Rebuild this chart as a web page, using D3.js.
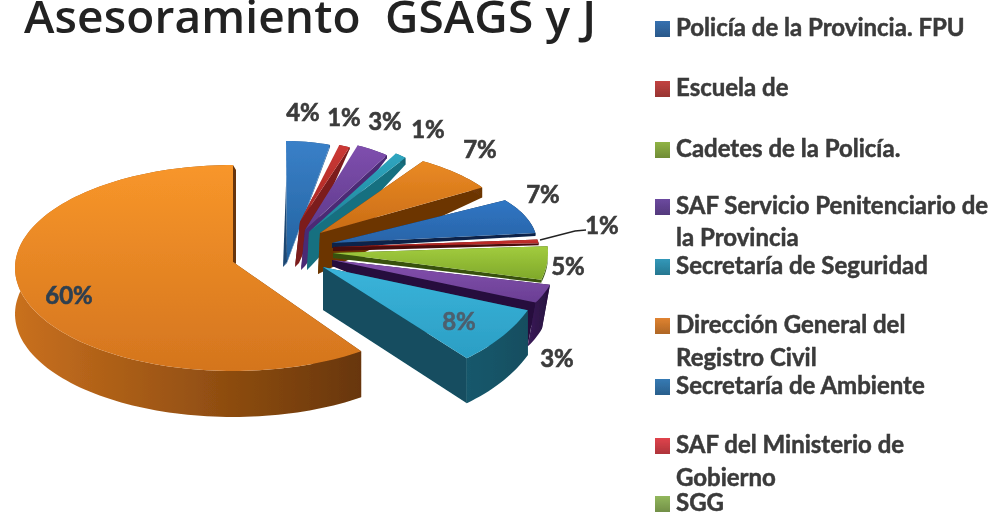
<!DOCTYPE html>
<html>
<head>
<meta charset="utf-8">
<script src="https://cdn.jsdelivr.net/npm/d3@7"></script>
<style>
  html, body { margin: 0; padding: 0; background: #fff; }
  svg { display: block; }
</style>
</head>
<body>
<div id="chart"></div>
<script>
// values, going clockwise from twelve o'clock
var sliceNames = ["Azul 1", "Rojo 1", "Violeta 1", "Turquesa 1", "Naranja 1", "Azul 2", "Rojo 2", "Verde", "Violeta 2", "Celeste", "Naranja 2"];
var sliceValues = [4, 1, 3, 1, 7, 7, 1, 5, 3, 8, 60];
var titleText = "Asesoramiento  GSAGS y J";
var legendNames = [
    ["Policía de la Provincia. FPU"],
    ["Escuela de"],
    ["Cadetes de la Policía."],
    ["SAF Servicio Penitenciario de", "la Provincia"],
    ["Secretaría de Seguridad"],
    ["Dirección General del", "Registro Civil"],
    ["Secretaría de Ambiente"],
    ["SAF del Ministerio de", "Gobierno"],
    ["SGG"]
];

// the picture is a skewed 3d pie, every slice has its own centre and radii
// dr/da = depth at rim/apex, rs/as = sideways shift of the lower edge at rim/apex, bx = back strip
// tf = back slice: left strip fades out at this fraction of the edge, only the far edge gets a side
var sliceShape = [
    {ax: 287, ay: 262, cx: 286, cy: 266, rx: 177, ry: 125, dr: 2, da: 5, rs: 0, as: -4, bx: 0, tf: 0.7},
    {ax: 300, ay: 222, cx: 297, cy: 267, rx: 170, ry: 126, dr: 2, da: 45, rs: 0, as: -5, bx: 0, tf: 0.35},
    {ax: 305, ay: 230, cx: 305, cy: 270, rx: 170, ry: 131, dr: 3, da: 40, rs: 0, as: -4, bx: 0, tf: 0.3},
    {ax: 309, ay: 232, cx: 310, cy: 270, rx: 178, ry: 133, dr: 7, da: 38, rs: 0, as: -2, bx: 0, tf: 0.3},
    {ax: 320, ay: 233, cx: 320, cy: 233, rx: 192, ry: 85, dr: 10, da: 41, rs: 0, as: -2, bx: 0},
    {ax: 332, ay: 243, cx: 332, cy: 243, rx: 205, ry: 80, dr: 3, da: 5, rs: 0, as: 0, bx: 0},
    {ax: 333, ay: 247, cx: 333, cy: 247, rx: 206, ry: 60, dr: 2, da: 4, rs: 0, as: 0, bx: 0},
    {ax: 333, ay: 253, cx: 333, cy: 253, rx: 215, ry: 108, dr: 3, da: 5, rs: 0, as: 0, bx: 0},
    {ax: 332, ay: 260, cx: 332, cy: 260, rx: 225, ry: 100, dr: 44, da: 6, rs: -8, as: 0, bx: 0},
    {ax: 323, ay: 267, cx: 354, cy: 257, rx: 192, ry: 125, dr: 45, da: 43, rs: 0, as: 0, bx: 0},
    {ax: 233, ay: 262, cx: 233, cy: 268, rx: 218, ry: 103, dr: 46, da: 46, rs: 0, as: 0, bx: 3}
];
var sliceTop = [
    ["#3a80c8", "#22629f"], ["#cc3a36", "#a52420"], ["#7f4fae", "#5f3a8c"], ["#2fa6c0", "#1d8296"],
    ["#ea8a24", "#c96c15"], ["#2f76c4", "#2a64a8"], ["#c83430", "#a8201e"], ["#a2cc3e", "#7fa82a"],
    ["#8450ae", "#6a3f94"], ["#3ab4da", "#2b9ec4"], ["#f8962a", "#d4751e"]
];
var sliceSide = [
    ["#2a5d96", "#1c4672"], ["#7c1c1a", "#6a1614"], ["#4c2c74", "#3f2463"], ["#177080", "#126272"],
    ["#8a4a0c", "#6c3606"], ["#0c2f5c", "#0a2448"], ["#5c0d10", "#4a0a0c"], ["#46661a", "#37510f"],
    ["#3a1c58", "#260f3e"], ["#15586c", "#124e60"], ["#c9701e", "#683608"]
];
var labelPos = [
    [303, 113], [344, 118], [385, 122], [428, 130], [480, 150], [543, 195], [602, 226], [568, 267], [557, 359], [459, 322], [69, 296]
];
var labelFill = ["#3b3b3b", "#3b3b3b", "#3b3b3b", "#3b3b3b", "#3b3b3b", "#3b3b3b", "#3b3b3b", "#3b3b3b", "#3b3b3b", "#4d5f6e", "#2e3f50"];
var legendColor = ["#2f6299", "#a83a38", "#7d9c3c", "#5e3f8a", "#2b84a0", "#c2722a", "#2f6a9c", "#c23a42", "#7f9f50"];
var legendY = [[28], [88], [149], [206, 238], [266], [325, 358], [386], [445, 478], [503]];

var width = 992, height = 513;
var svg = d3.select("#chart").append("svg").attr("width", width).attr("height", height);
var defs = svg.append("defs");

defs.append("filter").attr("id", "soft").append("feGaussianBlur").attr("stdDeviation", 0.6);

var addGradient = function(id, pair, x2, y2) {
    var g = defs.append("linearGradient").attr("id", id)
        .attr("x1", 0).attr("y1", 0).attr("x2", x2).attr("y2", y2);
    g.append("stop").attr("offset", "0%").attr("stop-color", pair[0]);
    g.append("stop").attr("offset", "100%").attr("stop-color", pair[1]);
};

sliceTop.forEach(function(p, i) { addGradient("top" + i, p, 0, 1); });
sliceSide.forEach(function(p, i) { addGradient("side" + i, p, 1, 0); });

// title
svg.append("text")
    .attr("x", 24)
    .attr("y", 33)
    .attr("font-family", "'Open Sans', sans-serif")
    .attr("font-weight", 600)
    .attr("font-size", 46)
    .attr("fill", "#222")
    .attr("textLength", 572)
    .attr("filter", "url(#soft)")
    .style("white-space", "pre")
    .text(titleText);

// pie
var pie = d3.pie().sort(null).value(function(d) { return d; });
var arcs = pie(sliceValues);
var pieG = svg.append("g").attr("filter", "url(#soft)");
var line = d3.line();

var rimPoints = function(s, a0, a1) {
    var n = Math.max(2, Math.ceil((a1 - a0) / 0.03));
    return d3.range(n + 1).map(function(k) {
        var a = a0 + (a1 - a0) * k / n;
        return [s.cx + s.rx * Math.sin(a), s.cy - s.ry * Math.cos(a)];
    });
};

arcs.forEach(function(arc, i) {
    var s = sliceShape[i];
    var rim = rimPoints(s, arc.startAngle, arc.endAngle);
    var first = rim[0], last = rim[rim.length - 1];
    var apex = [s.ax, s.ay];
    var lowRim = function(p) { return [p[0] + s.rs, p[1] + s.dr]; };
    var lowApex = [s.ax + s.as, s.ay + s.da];
    var g = pieG.append("g").attr("class", "slice").datum(sliceNames[i]);

    if (s.tf) {
        // back slices: tapered strip on the left, thin side along the far edge
        var fade = [apex[0] + (first[0] - apex[0]) * s.tf, apex[1] + (first[1] - apex[1]) * s.tf];
        g.append("path")
            .attr("d", line([apex, lowApex, fade]) + "Z")
            .attr("fill", sliceSide[i][1]);
        g.append("path")
            .attr("d", line([apex, lowApex, [lowApex[0] + 4, lowApex[1] - 4], lowRim(last), last]) + "Z")
            .attr("fill", sliceSide[i][0]);
    } else {
        // cut faces
        [first, last].forEach(function(p) {
            g.append("path")
                .attr("d", line([apex, lowApex, lowRim(p), p]) + "Z")
                .attr("fill", sliceSide[i][1]);
        });
    }
    // thin dark edge on the back side
    if (s.bx) {
        g.append("path")
            .attr("d", line([apex, last, [last[0] + s.bx, last[1] + 5], [apex[0] + s.bx, apex[1] + 2]]) + "Z")
            .attr("fill", sliceSide[i][1]);
    }
    // rim band
    g.append("path")
        .attr("d", line(rim.concat(rim.slice().reverse().map(lowRim))) + "Z")
        .attr("fill", "url(#side" + i + ")");
    // top face
    g.append("path")
        .attr("d", line([apex].concat(rim)) + "Z")
        .attr("fill", "url(#top" + i + ")");
});

// leader of the small red slice
pieG.append("path")
    .attr("d", line([[540, 240], [575, 231], [586, 230]]))
    .attr("fill", "none")
    .attr("stroke", "#222")
    .attr("stroke-width", 1.3);

// value labels
svg.append("g").attr("filter", "url(#soft)")
    .selectAll("text")
    .data(sliceValues)
    .enter().append("text")
    .attr("x", function(d, i) { return labelPos[i][0]; })
    .attr("y", function(d, i) { return labelPos[i][1]; })
    .attr("dy", "0.35em")
    .attr("text-anchor", "middle")
    .attr("font-family", "Lato, sans-serif")
    .attr("font-weight", 700)
    .attr("font-size", 24)
    .attr("fill", function(d, i) { return labelFill[i]; })
    .attr("stroke", function(d, i) { return labelFill[i]; })
    .attr("stroke-width", 0.6)
    .text(function(d) { return d + "%"; });

// legend
var legend = svg.append("g").attr("filter", "url(#soft)")
    .selectAll("g")
    .data(legendNames)
    .enter().append("g");

legendColor.forEach(function(c, i) {
    var l = d3.color(c);
    addGradient("key" + i, [l.brighter(0.4).formatHex(), l.darker(0.3).formatHex()], 0, 1);
});

legend.append("rect")
    .attr("x", 655)
    .attr("y", function(d, i) { return legendY[i][0] - 7; })
    .attr("width", 15)
    .attr("height", 16)
    .attr("fill", function(d, i) { return "url(#key" + i + ")"; });

legend.each(function(d, i) {
    d3.select(this).selectAll("text")
        .data(d)
        .enter().append("text")
        .attr("x", 676)
        .attr("y", function(t, j) { return legendY[i][j]; })
        .attr("dy", "0.35em")
        .attr("font-family", "Lato, sans-serif")
        .attr("font-weight", 700)
        .attr("font-size", 24)
        .attr("fill", "#3a3a3a")
        .attr("stroke", "#3a3a3a")
        .attr("stroke-width", 0.5)
        .text(function(t) { return t; });
});
</script>
</body>
</html>
